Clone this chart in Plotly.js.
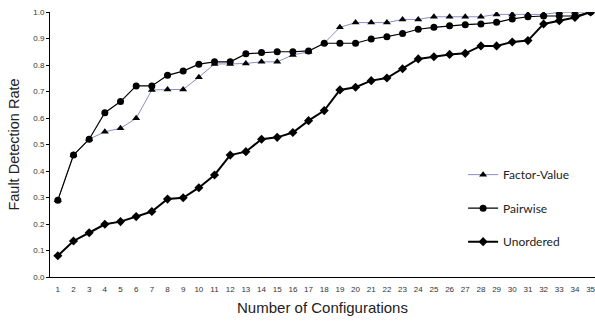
<!DOCTYPE html>
<html><head><meta charset="utf-8">
<script src="https://cdn.plot.ly/plotly-3.0.1.min.js"></script>
<style>html,body{margin:0;padding:0;overflow:hidden;background:#fff}</style>
</head><body><div id="chart" style="width:595px;height:322px"></div>
<script>
const configs = [1,2,3,4,5,6,7,8,9,10,11,12,13,14,15,16,17,18,19,20,21,22,23,24,25,26,27,28,29,30,31,32,33,34,35];
const factorValue = [0.29,0.46,0.52,0.548,0.561,0.599,0.706,0.708,0.708,0.754,0.804,0.804,0.806,0.812,0.812,0.838,0.85,0.882,0.942,0.96,0.96,0.96,0.972,0.972,0.982,0.982,0.982,0.982,0.991,0.991,0.991,0.991,0.999,1.0,1.0];
const pairwise = [0.29,0.46,0.52,0.62,0.662,0.721,0.721,0.761,0.777,0.803,0.812,0.812,0.842,0.847,0.85,0.85,0.853,0.882,0.882,0.882,0.898,0.907,0.919,0.935,0.942,0.948,0.952,0.955,0.961,0.974,0.982,0.985,0.985,0.985,1.0];
const unordered = [0.08,0.136,0.167,0.199,0.209,0.228,0.247,0.294,0.299,0.337,0.385,0.46,0.473,0.52,0.527,0.545,0.59,0.628,0.706,0.716,0.741,0.751,0.786,0.823,0.831,0.84,0.844,0.872,0.872,0.887,0.892,0.955,0.967,0.979,1.0];
const yTicks = [0,0.1,0.2,0.3,0.4,0.5,0.6,0.7,0.8,0.9,1.0];

const traces = [
  {x: configs, y: factorValue, name: 'Factor-Value', legendgroup: 'a', mode: 'lines+markers',
   line: {color: '#8c8cc8', width: 1}, marker: {symbol: 'triangle-up', size: 7, color: '#000'}},
  {x: configs, y: pairwise, name: 'Pairwise', legendgroup: 'b', mode: 'lines+markers',
   line: {color: '#000', width: 1.2}, marker: {symbol: 'circle', size: 7, color: '#000'}},
  {x: configs, y: unordered, name: 'Unordered', legendgroup: 'c', mode: 'lines+markers',
   line: {color: '#000', width: 2}, marker: {symbol: 'diamond', size: 7, color: '#000'}}
];

const layout = {
  width: 595, height: 322,
  margin: {l: 50, r: 0, t: 12, b: 45},
  paper_bgcolor: '#fff', plot_bgcolor: '#fff',
  font: {family: 'Liberation Sans, Arial, sans-serif', color: '#333'},
  xaxis: {
    range: [0.5, 35.28], tickvals: configs, ticktext: configs.map(String),
    showgrid: false, zeroline: false, showline: true, linecolor: '#000', linewidth: 1,
    ticks: 'outside', ticklen: 4, tickcolor: 'rgba(0,0,0,0)', ticklabeloverflow: 'allow',
    tickfont: {size: 8, color: '#333'},
    title: {text: 'Number of Configurations', font: {size: 15, color: '#222'}, standoff: 9}
  },
  yaxis: {
    range: [0, 1.0], tickvals: yTicks, ticktext: yTicks.map(v => v.toFixed(1)),
    showgrid: false, zeroline: false, showline: true, linecolor: '#000', linewidth: 1,
    ticks: 'outside', ticklen: 3, tickcolor: '#000',
    tickfont: {size: 8, color: '#333'},
    title: {text: 'Fault Detection Rate', font: {size: 14.5, color: '#222'}, standoff: 10}
  },
  showlegend: true,
  legend: {x: 0.758, y: 0.441, xanchor: 'left', yanchor: 'top', bgcolor: 'rgba(0,0,0,0)',
    font: {family: 'Lato, sans-serif', size: 12, color: '#222'}, tracegroupgap: 14.5, itemwidth: 30}
};

Plotly.newPlot('chart', traces, layout, {displayModeBar: false, staticPlot: true});
</script></body></html>
